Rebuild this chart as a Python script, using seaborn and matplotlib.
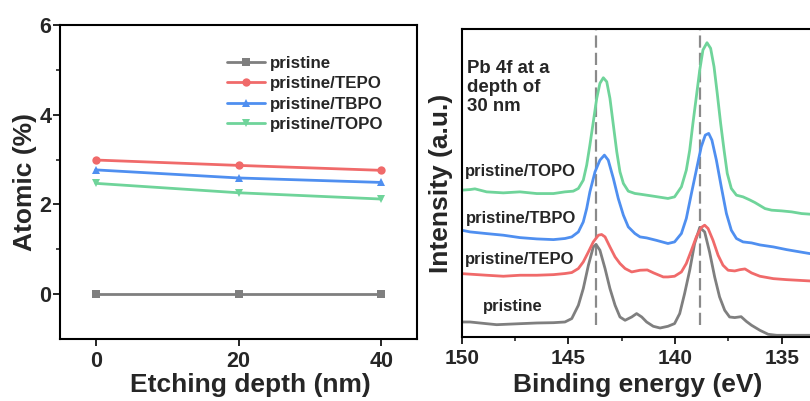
import numpy as np
import pandas as pd
import matplotlib
matplotlib.use("Agg")
import matplotlib.pyplot as plt
import seaborn as sns

# ---------------- data: left panel ----------------
depth = [0, 20, 40]
series_names = ["pristine", "pristine/TEPO", "pristine/TBPO", "pristine/TOPO"]
atomic_pristine = [0.0, 0.0, 0.0]
atomic_tepo = [2.99, 2.87, 2.76]
atomic_tbpo = [2.77, 2.59, 2.49]
atomic_topo = [2.47, 2.26, 2.12]

# ---------------- data: right panel (Pb 4f spectra, vertically offset, a.u.) ----------------
be_pristine = [150.0, 149.61, 148.83, 148.36, 147.27, 146.48, 145.70, 145.16, 144.84, 144.53,
               144.30, 144.06, 143.83, 143.70, 143.52, 143.28, 143.05, 142.81, 142.58, 142.34,
               142.03, 141.80, 141.56, 141.33, 141.02, 140.70, 140.33, 140.02, 139.78, 139.55,
               139.31, 139.08, 138.84, 138.61, 138.38, 138.14, 137.91, 137.67, 137.44, 137.20,
               136.90, 136.65, 136.41, 136.02, 135.63, 135.23, 134.77, 133.67]
int_pristine = [15.0, 15.0, 13.3, 12.3, 13.3, 14.0, 14.3, 15.0, 18.4, 31.7,
                48.4, 71.7, 90.0, 92.4, 86.7, 68.4, 48.4, 31.7, 20.0, 16.7,
                20.0, 23.4, 20.0, 15.0, 10.7, 9.0, 10.7, 13.4, 23.4, 43.4,
                66.7, 93.4, 109.4, 105.0, 85.0, 60.0, 40.0, 26.7, 20.0, 19.4,
                20.3, 15.5, 11.7, 6.7, 2.7, 1.7, 1.7, 1.7]

be_tepo = [150.0, 148.83, 148.05, 147.27, 146.48, 145.70, 145.16, 144.84, 144.53, 144.30,
           144.06, 143.83, 143.59, 143.44, 143.28, 143.05, 142.81, 142.58, 142.34, 142.03,
           141.64, 141.30, 141.00, 140.55, 140.33, 140.02, 139.70, 139.47, 139.23, 139.00,
           138.77, 138.61, 138.45, 138.22, 137.98, 137.75, 137.51, 137.20, 136.95, 136.72,
           136.41, 136.02, 135.39, 134.77, 133.67]
int_tepo = [63.3, 61.7, 60.7, 61.7, 61.7, 62.3, 63.4, 64.4, 68.4, 75.0,
            85.0, 95.0, 101.7, 102.4, 100.0, 90.0, 80.0, 73.4, 68.4, 65.0,
            66.7, 67.0, 64.0, 60.0, 60.0, 60.7, 65.0, 73.4, 86.7, 100.0,
            109.4, 111.7, 108.4, 96.7, 81.7, 71.7, 66.7, 66.0, 67.3, 68.0,
            64.0, 60.7, 58.3, 57.3, 56.0]

be_tbpo = [150.0, 149.61, 148.83, 148.05, 147.27, 146.48, 145.70, 145.16, 144.84, 144.53,
           144.30, 144.14, 143.99, 143.75, 143.52, 143.31, 143.13, 142.89, 142.66, 142.42,
           142.19, 141.88, 141.64, 141.33, 140.86, 140.33, 140.02, 139.70, 139.47, 139.23,
           139.00, 138.77, 138.58, 138.42, 138.27, 138.06, 137.83, 137.59, 137.36, 137.12,
           136.81, 136.41, 136.02, 135.39, 134.77, 134.14, 133.67]
int_tbpo = [106.7, 105.0, 103.3, 101.7, 99.3, 98.0, 97.3, 98.4, 100.0, 105.0,
            115.0, 128.4, 145.0, 165.0, 176.7, 181.7, 176.7, 158.4, 138.4, 121.7,
            110.0, 103.4, 100.0, 99.0, 96.5, 93.4, 95.0, 103.4, 118.4, 143.4,
            166.7, 190.0, 201.7, 203.4, 196.7, 176.7, 150.0, 123.4, 106.7, 98.4,
            95.0, 94.0, 92.0, 90.0, 87.3, 85.0, 83.3]

be_topo = [150.0, 149.61, 149.38, 148.83, 148.05, 147.27, 146.48, 145.70, 145.16, 144.77,
           144.53, 144.30, 144.14, 143.99, 143.83, 143.67, 143.52, 143.36, 143.20, 143.05,
           142.89, 142.73, 142.58, 142.42, 142.19, 141.88, 141.64, 141.02, 140.33, 140.02,
           139.70, 139.47, 139.31, 139.16, 139.00, 138.84, 138.69, 138.50, 138.33, 138.17,
           138.02, 137.86, 137.70, 137.55, 137.36, 137.12, 136.81, 136.50, 136.25, 135.78,
           135.47, 135.00, 134.53, 134.06, 133.67]
int_topo = [146.7, 147.3, 148.0, 145.0, 144.0, 145.0, 143.3, 143.3, 145.0, 145.7,
            148.4, 156.7, 171.7, 191.7, 215.0, 238.4, 253.4, 259.0, 255.0, 238.4,
            211.7, 185.0, 165.0, 153.4, 145.7, 143.4, 142.7, 140.7, 138.4, 140.0,
            150.0, 166.7, 186.7, 213.4, 240.0, 266.7, 286.7, 294.0, 288.4, 270.0,
            243.4, 213.4, 186.7, 163.4, 148.4, 141.7, 140.0, 137.0, 134.3, 128.3,
            126.7, 126.0, 125.0, 123.3, 122.7]

peak_positions = [143.70, 138.83]
xticks_right = [150, 145, 140, 135]

# ---------------- style ----------------
sns.set_theme(style="ticks")
plt.rcParams["font.family"] = ["Liberation Sans", "DejaVu Sans"]
plt.rcParams["font.weight"] = "bold"
plt.rcParams["axes.labelweight"] = "bold"
plt.rcParams["lines.solid_joinstyle"] = "round"

c_gray = "#7f7f7f"
c_red = "#f06a6a"
c_blue = "#4f8ff0"
c_green = "#6fd49a"
colors = [c_gray, c_red, c_blue, c_green]
markers = ["s", "o", "^", "v"]

fig = plt.figure(figsize=(8.10, 4.01), dpi=100)
axL = fig.add_axes([60 / 810, 62 / 401, 357 / 810, 314 / 401])
axR = fig.add_axes([461.7 / 810, 64 / 401, (810 - 461.7) / 810, 308 / 401])

# ---- left panel ----
rows = []
for name, vals in zip(series_names, [atomic_pristine, atomic_tepo, atomic_tbpo, atomic_topo]):
    for d, v in zip(depth, vals):
        rows.append({"Etching depth (nm)": d, "Atomic (%)": v, "sample": name})
dfL = pd.DataFrame(rows)
sns.lineplot(data=dfL, x="Etching depth (nm)", y="Atomic (%)", hue="sample",
             style="sample", hue_order=series_names, style_order=series_names,
             palette=colors, markers=markers, dashes=False, linewidth=2.0,
             markersize=6, markeredgewidth=0, ax=axL)
axL.set_xlim(-5, 45)
axL.set_ylim(-1, 6)
axL.set_xticks([0, 20, 40])
axL.set_yticks([0, 2, 4, 6])
axL.set_yticks([1, 3, 5], minor=True)
axL.set_xlabel("Etching depth (nm)", fontsize=19, fontweight="bold")
axL.set_ylabel("Atomic (%)", fontsize=19, fontweight="bold")
axL.xaxis.set_label_coords(0.534, -0.108)
axL.yaxis.set_label_coords(-0.064, 0.5)
axL.tick_params(axis="both", which="major", labelsize=15.5, width=1.4, length=5, direction="out")
axL.tick_params(axis="y", which="major", pad=1.3)
axL.tick_params(axis="both", which="minor", width=1.2, length=3, direction="out")
for lab in axL.get_xticklabels() + axL.get_yticklabels():
    lab.set_fontweight("bold")
for sp in axL.spines.values():
    sp.set_linewidth(1.5)
    sp.set_color("black")
leg = axL.legend(loc="upper left", bbox_to_anchor=(0.45, 0.924), frameon=False,
                 prop={"size": 12.2, "weight": "bold"}, handlelength=2.2,
                 handletextpad=0.3, labelspacing=0.33, borderaxespad=0)

# ---- right panel ----
spectra = [(be_pristine, int_pristine), (be_tepo, int_tepo), (be_tbpo, int_tbpo), (be_topo, int_topo)]
for (be, it), col in zip(spectra, colors):
    dfs = pd.DataFrame({"Binding energy (eV)": be, "Intensity (a.u.)": it})
    sns.lineplot(data=dfs, x="Binding energy (eV)", y="Intensity (a.u.)", color=col,
                 linewidth=2.0, sort=False, estimator=None, ax=axR)
for p in peak_positions:
    axR.axvline(p, ymin=0.038, ymax=1.0, color="#8a8a8a", linewidth=1.6,
                dashes=(5.5, 2.3), zorder=0.5)
axR.set_xlim(150, 150 - (810 - 461.7) / 21.33)
axR.set_ylim(0, 307.7)
axR.set_xticks(xticks_right)
axR.set_xticks([147.5, 142.5, 137.5], minor=True)
axR.set_yticks([])
axR.set_xlabel("Binding energy (eV)", fontsize=19, fontweight="bold")
axR.xaxis.set_label_coords(0.506, -0.117)
axR.set_ylabel("Intensity (a.u.)", fontsize=19, fontweight="bold", labelpad=6)
axR.tick_params(axis="x", which="major", labelsize=15, width=1.4, length=5, direction="out")
axR.tick_params(axis="x", which="minor", width=1.2, length=3, direction="out")
for lab in axR.get_xticklabels():
    lab.set_fontweight("bold")
for sp in axR.spines.values():
    sp.set_linewidth(1.5)
    sp.set_color("black")
axR.spines["right"].set_visible(False)

axR.text(149.77, 277, "Pb 4f at a\ndepth of\n30 nm", fontsize=13.4, fontweight="bold",
         ha="left", va="top", linespacing=1.18)
axR.text(149.85, 165, "pristine/TOPO", fontsize=12, fontweight="bold", ha="left", va="center")
axR.text(149.81, 118.7, "pristine/TBPO", fontsize=12, fontweight="bold", ha="left", va="center")
axR.text(149.85, 77.7, "pristine/TEPO", fontsize=12, fontweight="bold", ha="left", va="center")
axR.text(149.02, 30, "pristine", fontsize=12, fontweight="bold", ha="left", va="center")

fig.savefig("out.png", dpi=100)
